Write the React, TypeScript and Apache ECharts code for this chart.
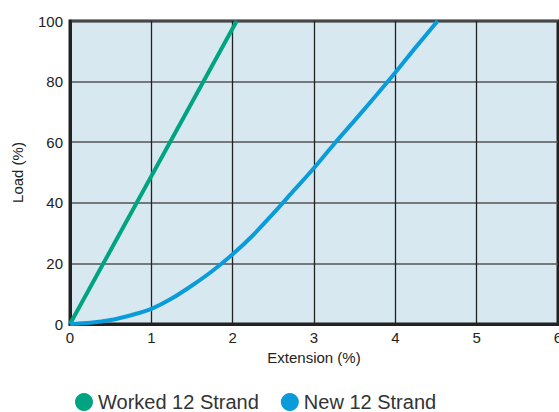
import React, { useEffect, useRef } from "react";
import * as echarts from "echarts";

const xTicks = [0, 1, 2, 3, 4, 5, 6];
const workedExt = [0, 2.05];
const workedLoad = [0, 100];
const newExt = [0, 0.25, 0.5, 0.75, 1, 1.25, 1.5, 1.75, 2, 2.25, 2.5, 2.75, 3, 3.25, 3.5, 3.75, 4, 4.25, 4.52];
const newLoad = [0, 0.4, 1.3, 2.9, 5, 8.4, 12.7, 17.5, 23, 29.3, 36.5, 44, 51.5, 59.5, 67.2, 75, 83, 91.3, 100];
const seriesNames = ["Worked 12 Strand", "New 12 Strand"];
const colors = ["#00A480", "#0A9CDA"];

export default function App() {
  const ref = useRef<HTMLDivElement>(null);
  useEffect(() => {
    if (!ref.current) return;
    const chart = echarts.init(ref.current, null, { renderer: "svg" });
    const font = "Liberation Sans, Arial, Helvetica, sans-serif";
    chart.setOption({
      animation: false,
      textStyle: { fontFamily: font },
      grid: {
        left: 70,
        right: 1,
        top: 21,
        bottom: 88,
        outerBoundsMode: "none",
        containLabel: false,
        show: true,
        backgroundColor: "#D8E8F1",
        borderColor: "#222",
        borderWidth: 3,
      },
      legend: {
        data: seriesNames,
        left: 70,
        top: 387,
        icon: "circle",
        itemWidth: 18,
        itemHeight: 18,
        itemGap: 22,
        textStyle: { fontSize: 20, color: "#333", fontFamily: font },
      },
      xAxis: {
        type: "value",
        min: xTicks[0],
        max: xTicks[xTicks.length - 1],
        interval: 1,
        name: "Extension (%)",
        nameLocation: "middle",
        nameGap: 26,
        nameTextStyle: { fontSize: 15, color: "#222" },
        axisLine: { show: true, lineStyle: { color: "#222", width: 3 } },
        axisTick: { show: false },
        axisLabel: { fontSize: 15, color: "#222", margin: 6 },
        splitLine: { show: true, lineStyle: { color: "#222", width: 1.3 } },
      },
      yAxis: {
        type: "value",
        min: 0,
        max: 100,
        interval: 20,
        name: "Load (%)",
        nameLocation: "middle",
        nameGap: 45,
        nameRotate: 90,
        nameTextStyle: { fontSize: 15, color: "#222" },
        axisLine: { show: true, lineStyle: { color: "#222", width: 3 } },
        axisTick: { show: false },
        axisLabel: { fontSize: 15, color: "#222", margin: 7 },
        splitLine: { show: true, lineStyle: { color: "#555", width: 1.5 } },
      },
      series: [
        {
          name: seriesNames[0],
          type: "line",
          data: workedExt.map((x, i) => [x, workedLoad[i]]),
          showSymbol: false,
          symbol: "none",
          lineStyle: { color: colors[0], width: 4 },
          itemStyle: { color: colors[0] },
        },
        {
          name: seriesNames[1],
          type: "line",
          data: newExt.map((x, i) => [x, newLoad[i]]),
          smooth: 0.3,
          showSymbol: false,
          symbol: "none",
          lineStyle: { color: colors[1], width: 4 },
          itemStyle: { color: colors[1] },
        },
      ],
    });
    return () => chart.dispose();
  }, []);
  return <div ref={ref} style={{ width: 559, height: 412, position: "absolute", left: 0, top: 0 }} />;
}
